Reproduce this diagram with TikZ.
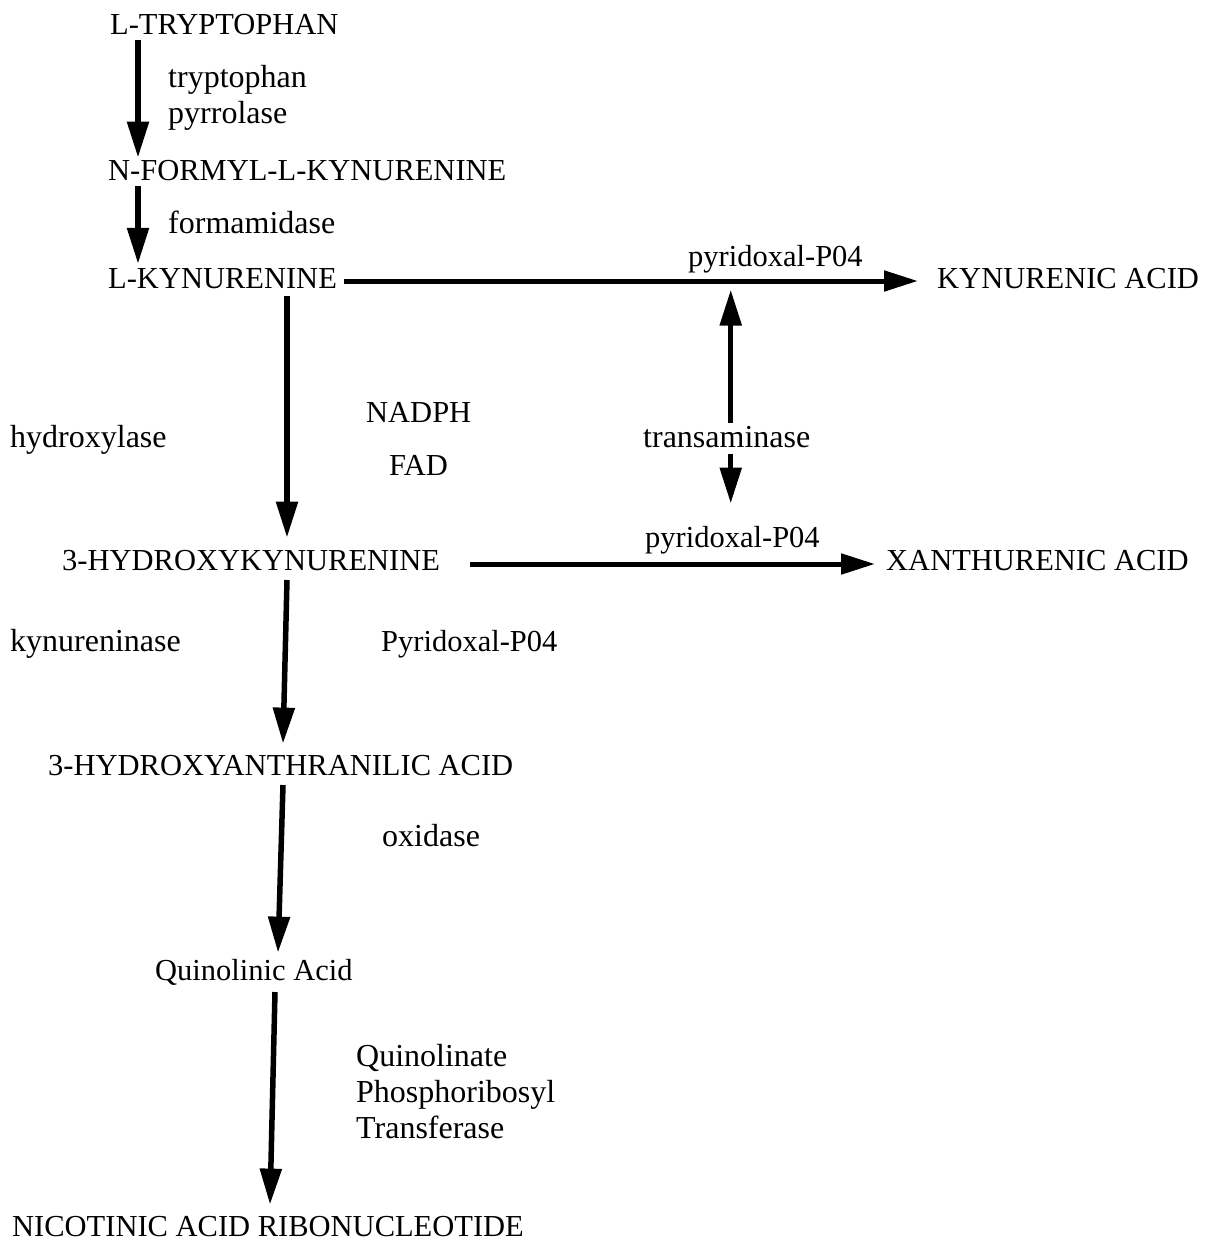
\documentclass[tikz,border=0pt]{standalone}
\usepackage{fontspec}
\setmainfont{Liberation Serif}
\usetikzlibrary{arrows.meta}
\begin{document}
\begin{tikzpicture}[x=1pt,y=-1pt,
  txt/.style={inner sep=0pt,anchor=base west,font=\fontsize{30.5}{37}\selectfont},
  lbl/.style={inner sep=0pt,anchor=base west,font=\fontsize{32}{38}\selectfont},
  arr/.style={line width=5.5pt,-{Triangle[length=36pt,width=21pt]}},
  harr/.style={line width=5pt,-{Triangle[length=34pt,width=20pt]}}]
\useasboundingbox[fill=white] (0,0) rectangle (1210,1244);
% compounds
\node[txt] (trp)  at (110,35)   {L-TRYPTOPHAN};
\node[txt] (nfk)  at (108,180)  {N-FORMYL-L-KYNURENINE};
\node[txt] (kyn)  at (108,288)  {L-KYNURENINE};
\node[txt] (kyna) at (937,288)  {KYNURENIC ACID};
\node[txt] (hk)   at (62,570)   {3-HYDROXYKYNURENINE};
\node[txt] (xa)   at (886,570)  {XANTHURENIC ACID};
\node[txt] (haa)  at (48,775)   {3-HYDROXYANTHRANILIC ACID};
\node[txt] (qa)   at (155,980)  {Quinolinic Acid};
\node[txt] (nic)  at (12,1236)  {NICOTINIC ACID RIBONUCLEOTIDE};
% enzyme / cofactor labels
\node[lbl] (l1)  at (168,88)   {tryptophan};
\node[lbl] (l2)  at (168,124)  {pyrrolase};
\node[lbl] (l3)  at (168,233)  {formamidase};
\node[txt] (l4)  at (688,266)  {pyridoxal-P04};
\node[lbl] (tr)  at (643,447)  {transaminase};
\node[lbl] (l5)  at (10,447)   {hydroxylase};
\node[txt] (l6)  at (366,422)  {NADPH};
\node[txt] (l7)  at (389,475)  {FAD};
\node[txt] (l8)  at (645,547)  {pyridoxal-P04};
\node[lbl] (l9)  at (10,651)   {kynureninase};
\node[txt] (l10) at (381,651)  {Pyridoxal-P04};
\node[lbl] (l11) at (382,846)  {oxidase};
\node[lbl] (l12) at (356,1066) {Quinolinate};
\node[lbl] (l13) at (356,1102) {Phosphoribosyl};
\node[lbl] (l14) at (356,1138) {Transferase};
% vertical arrows
\draw[arr] ([xshift=28,yshift=-5]trp.base west) -- ([xshift=30,yshift=2]nfk.north west);
\draw[arr] ([xshift=30,yshift=-6]nfk.base west) -- ([xshift=30,yshift=4]kyn.north west);
\draw[arr] ([xshift=179,yshift=-8]kyn.base west) -- ([xshift=225,yshift=12]hk.north west);
\draw[arr] ([xshift=225,yshift=-10]hk.base west) -- ([xshift=235,yshift=11]haa.north west);
\draw[arr] ([xshift=235,yshift=-10]haa.base west) -- ([xshift=123,yshift=6]qa.north west);
\draw[arr] ([xshift=120,yshift=-12]qa.base west) -- ([xshift=258,yshift=11]nic.north west);
% horizontal arrows
\draw[harr] ([xshift=7,yshift=7]kyn.base east) -- ([xshift=-19,yshift=7]kyna.base west);
\draw[harr] ([xshift=408,yshift=6]hk.base west) -- ([xshift=-11,yshift=6]xa.base west);
% transaminase double arrow
\draw[arr] ([xshift=4,yshift=3]tr.north) -- ++(0,-133);
\draw[arr] ([xshift=4,yshift=-6]tr.south) -- ++(0,50);
\end{tikzpicture}
\end{document}
